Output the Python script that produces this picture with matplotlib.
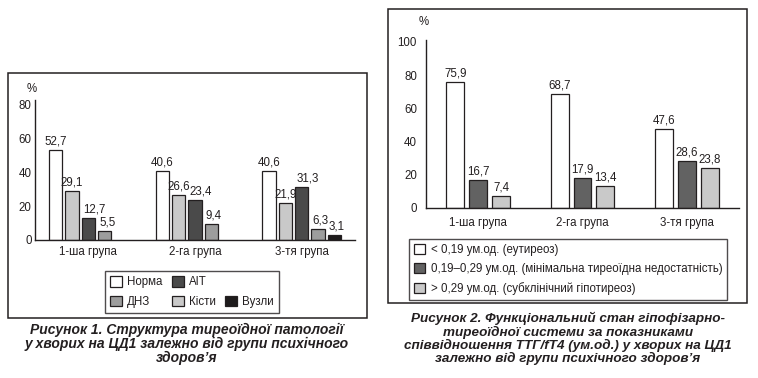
import matplotlib
matplotlib.use('Agg')
import matplotlib.pyplot as plt
from matplotlib.patches import Rectangle, Patch
import numpy as np

plt.rcParams['font.family'] = ['Liberation Sans', 'DejaVu Sans']

W, H = 758, 378
TXT = '#231f20'
FS = 8.3

groups = ['1-ша група', '2-га група', '3-тя група']

# ---- Figure 1 data ----
s1_names = ['Норма', 'Кісти', 'АІТ', 'ДНЗ', 'Вузли']
s1_colors = ['#ffffff', '#c9c9c9', '#4a4a4a', '#9d9d9d', '#1e1b1c']
norma = [52.7, 40.6, 40.6]
kisty = [29.1, 26.6, 21.9]
ait = [12.7, 23.4, 31.3]
dnz = [5.5, 9.4, 6.3]
vuzly = [np.nan, np.nan, 3.1]
s1_values = [norma, kisty, ait, dnz, vuzly]
y1_ticks = [0, 20, 40, 60, 80]

# ---- Figure 2 data ----
s2_names = ['< 0,19 ум.од. (еутиреоз)',
            '0,19–0,29 ум.од. (мінімальна тиреоїдна недостатність)',
            '> 0,29 ум.од. (субклінічний гіпотиреоз)']
s2_colors = ['#ffffff', '#626262', '#c9c9c9']
eutyreoz = [75.9, 68.7, 47.6]
minimal = [16.7, 17.9, 28.6]
subclin = [7.4, 13.4, 23.8]
s2_values = [eutyreoz, minimal, subclin]
y2_ticks = [0, 20, 40, 60, 80, 100]

caption1 = ['Рисунок 1. Структура тиреоїдної патології',
            'у хворих на ЦД1 залежно від групи психічного',
            'здоров’я']
caption2 = ['Рисунок 2. Функціональний стан гіпофізарно-',
            'тиреоїдної системи за показниками',
            'співвідношення ТТГ/fT4 (ум.од.) у хворих на ЦД1',
            'залежно від групи психічного здоров’я']


def fx(x):
    return x / W


def fy(y):
    return 1 - y / H


fig = plt.figure(figsize=(W / 100, H / 100), dpi=100)


def add_ax(x0, x1, ytop, ybot):
    return fig.add_axes([fx(x0), fy(ybot), (x1 - x0) / W, (ybot - ytop) / H])


def fmt(v):
    return f"{v:.1f}".replace('.', ',')


def style_ax(ax, ypad, xpad):
    for s in ['top', 'right']:
        ax.spines[s].set_visible(False)
    for s in ['left', 'bottom']:
        ax.spines[s].set_linewidth(1.0)
        ax.spines[s].set_color(TXT)
    ax.tick_params(axis='both', length=0, labelsize=FS, colors=TXT)
    ax.tick_params(axis='y', pad=ypad)
    ax.tick_params(axis='x', pad=xpad)
    ax.set_facecolor('none')


# frames
fig.patches.append(Rectangle((fx(8), fy(318)), (367 - 8) / W, (318 - 73) / H,
                             transform=fig.transFigure, fill=False, lw=1.1, ec=TXT))
fig.patches.append(Rectangle((fx(388), fy(303)), (747 - 388) / W, (303 - 9) / H,
                             transform=fig.transFigure, fill=False, lw=1.1, ec=TXT))

# ---- Left chart ----
ax1 = add_ax(35, 355, 100, 240)
x = np.arange(len(groups))
step1, width1 = 0.153, 0.127
handles1 = []
for i, (name, col, vals) in enumerate(zip(s1_names, s1_colors, s1_values)):
    off = (i - 2) * step1
    b = ax1.bar(x + off, vals, width1, color=col, edgecolor=TXT, linewidth=0.9, label=name)
    handles1.append(b)
    for xi, v in zip(x, vals):
        if np.isnan(v):
            continue
        if i <= 1:
            ax1.text(xi + off, v + 1.5, fmt(v), ha='center', va='bottom', fontsize=FS, color=TXT)
        else:
            ax1.text(xi + off - width1 / 2 + 0.012, v + 1.5, fmt(v), ha='left', va='bottom',
                     fontsize=FS, color=TXT)
ax1.set_xlim(-0.5, 2.5)
ax1.set_ylim(0, 82.4)
ax1.set_yticks(y1_ticks)
ax1.set_xticks(x)
ax1.set_xticklabels(groups)
style_ax(ax1, 2.5, 4.5)
fig.text(fx(32), fy(89), '%', ha='center', va='center', fontsize=FS, color=TXT)

# legend 1: rows Норма, АІТ / ДНЗ, Кісти, Вузли
idx = {n: h for n, h in zip(s1_names, handles1)}
blank = Patch(visible=False)
leg1_h = [idx['Норма'], idx['ДНЗ'], idx['АІТ'], idx['Кісти'], blank, idx['Вузли']]
leg1_l = ['Норма', 'ДНЗ', 'АІТ', 'Кісти', '', 'Вузли']
leg1 = fig.legend(leg1_h, leg1_l, loc='upper left', bbox_to_anchor=(fx(105), fy(271)),
                  ncol=3, fontsize=FS, frameon=True, fancybox=False, edgecolor=TXT,
                  handlelength=1.0, handleheight=1.0, handletextpad=0.45,
                  columnspacing=0.85, labelspacing=0.65, borderpad=0.45, borderaxespad=0)
leg1.get_frame().set_linewidth(1.0)
for t in leg1.get_texts():
    t.set_color(TXT)

# ---- Right chart ----
ax2 = add_ax(426, 739, 40, 208)
step2, width2 = 0.22, 0.172
handles2 = []
for i, (name, col, vals) in enumerate(zip(s2_names, s2_colors, s2_values)):
    off = (i - 1) * step2
    b = ax2.bar(x + off, vals, width2, color=col, edgecolor=TXT, linewidth=0.9, label=name)
    handles2.append(b)
    for xi, v in zip(x, vals):
        ax2.text(xi + off, v + 1.5, fmt(v), ha='center', va='bottom', fontsize=FS, color=TXT)
ax2.set_xlim(-0.5, 2.5)
ax2.set_ylim(0, 101.2)
ax2.set_yticks(y2_ticks)
ax2.set_xticks(x)
ax2.set_xticklabels(groups)
style_ax(ax2, 6.5, 6.5)
fig.text(fx(424), fy(22), '%', ha='center', va='center', fontsize=FS, color=TXT)

leg2 = fig.legend(handles2, s2_names, loc='upper left', bbox_to_anchor=(fx(409), fy(239)),
                  ncol=1, fontsize=FS, frameon=True, fancybox=False, edgecolor=TXT,
                  handlelength=1.0, handleheight=1.0, handletextpad=0.45,
                  labelspacing=0.6, borderpad=0.42, borderaxespad=0)
leg2.get_frame().set_linewidth(1.0)
for t in leg2.get_texts():
    t.set_color(TXT)

# captions
for line, yy in zip(caption1, [330, 344, 358]):
    fig.text(fx(187), fy(yy), line, ha='center', va='center', fontsize=10,
             fontweight='bold', fontstyle='italic', color=TXT)
for line, yy in zip(caption2, [318, 332, 345, 358]):
    fig.text(fx(568), fy(yy), line, ha='center', va='center', fontsize=9.7,
             fontweight='bold', fontstyle='italic', color=TXT)

fig.savefig('out.png', dpi=100)
